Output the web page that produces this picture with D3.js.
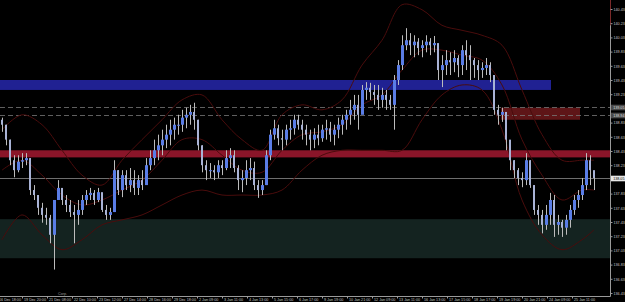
<!DOCTYPE html>
<html>
<head>
<meta charset="utf-8">
<script src="https://cdn.jsdelivr.net/npm/d3@7"></script>
<style>
  html, body { margin: 0; padding: 0; background: #000; overflow: hidden; }
</style>
</head>
<body>
<div id="chartArea"></div>
<script>
const svgWidth = 625;
const svgHeight = 302;
const plotRight = 610;
const plotBottom = 296;

// hourly bars (one drawn bar per group of hours), prices
const firstOpen = 138.87;
const highs = [
  138.90, 138.80, 138.59, 138.37, 138.37, 138.40, 138.40, 138.33, 137.95, 137.81,
  137.70, 137.63, 137.53, 137.74, 138.02, 137.88, 137.81, 137.74, 137.67, 137.74,
  137.81, 137.88, 137.91, 137.88, 137.91, 137.81, 137.67, 137.63, 138.30, 138.16,
  138.16, 138.16, 138.19, 138.16, 138.09, 138.16, 138.33, 138.44, 138.59, 138.66,
  138.73, 138.80, 138.87, 138.90, 138.94, 139.01, 139.04, 139.08, 139.11, 138.87,
  138.51, 138.30, 138.26, 138.23, 138.30, 138.30, 138.44, 138.47, 138.44, 138.23,
  138.16, 138.30, 138.33, 138.28, 138.02, 138.02, 138.44, 138.73, 138.87, 138.80,
  138.73, 138.80, 138.87, 138.94, 138.94, 138.87, 138.80, 138.73, 138.75, 138.80,
  138.80, 138.87, 138.84, 138.80, 138.90, 138.94, 139.01, 139.15, 139.22, 139.22,
  139.36, 139.40, 139.39, 139.36, 139.36, 139.32, 139.29, 139.22, 139.50, 139.71,
  140.06, 140.16, 140.09, 140.06, 140.02, 139.99, 140.06, 140.02, 140.05, 139.81,
  139.78, 139.85, 139.82, 139.85, 139.78, 139.92, 139.99, 139.92, 139.74, 139.71,
  139.68, 139.74, 139.68, 139.43, 139.08, 139.04, 138.90, 138.51, 138.30, 138.19,
  138.13, 138.40, 138.30, 137.95, 137.67, 137.60, 137.67, 137.84, 137.81, 137.53,
  137.46, 137.53, 137.67, 137.81, 137.88, 138.05, 138.40, 138.37, 138.09
];
const lows = [
  138.70, 138.51, 138.23, 138.06, 138.13, 138.19, 138.23, 137.81, 137.74, 137.53,
  137.42, 137.39, 137.13, 136.76, 137.74, 137.67, 137.57, 137.50, 137.13, 137.39,
  137.53, 137.67, 137.74, 137.67, 137.71, 137.57, 137.46, 137.46, 137.57, 137.81,
  137.78, 137.88, 137.85, 137.81, 137.81, 137.88, 138.02, 138.16, 138.23, 138.30,
  138.37, 138.47, 138.51, 138.59, 138.66, 138.70, 138.75, 138.80, 138.73, 138.44,
  138.13, 138.02, 138.05, 138.02, 138.05, 138.09, 138.16, 138.19, 138.13, 137.88,
  137.85, 137.95, 138.02, 137.88, 137.77, 137.81, 137.95, 138.30, 138.59, 138.51,
  138.44, 138.51, 138.59, 138.66, 138.73, 138.59, 138.51, 138.44, 138.47, 138.51,
  138.56, 138.59, 138.56, 138.51, 138.61, 138.66, 138.73, 138.80, 138.87, 138.73,
  139.01, 139.15, 139.15, 139.08, 139.01, 139.04, 139.01, 139.01, 138.73, 139.36,
  139.57, 139.85, 139.78, 139.75, 139.78, 139.75, 139.82, 139.78, 139.82, 139.43,
  139.33, 139.50, 139.50, 139.54, 139.47, 139.50, 139.57, 139.43, 139.46, 139.43,
  139.46, 139.50, 139.40, 138.94, 138.80, 138.84, 138.44, 138.16, 138.05, 137.95,
  137.92, 137.95, 137.91, 137.53, 137.39, 137.27, 137.32, 137.39, 137.22, 137.25,
  137.22, 137.25, 137.35, 137.53, 137.63, 137.74, 137.88, 137.95, 137.88
];
const closes = [
  138.80, 138.59, 138.30, 138.16, 138.28, 138.30, 138.33, 137.88, 137.81, 137.63,
  137.53, 137.49, 137.25, 137.74, 137.91, 137.74, 137.67, 137.57, 137.53, 137.60,
  137.74, 137.81, 137.84, 137.74, 137.85, 137.60, 137.53, 137.57, 138.16, 137.88,
  138.09, 137.95, 138.02, 137.91, 138.02, 137.95, 138.23, 138.33, 138.44, 138.51,
  138.59, 138.66, 138.73, 138.80, 138.80, 138.90, 138.94, 138.98, 138.87, 138.51,
  138.23, 138.16, 138.16, 138.13, 138.23, 138.19, 138.33, 138.37, 138.19, 138.02,
  138.05, 138.16, 138.19, 137.95, 137.88, 137.95, 138.37, 138.66, 138.75, 138.61,
  138.59, 138.73, 138.75, 138.87, 138.80, 138.73, 138.66, 138.59, 138.66, 138.61,
  138.73, 138.75, 138.66, 138.73, 138.80, 138.87, 138.94, 139.01, 139.08, 138.94,
  139.29, 139.32, 139.26, 139.22, 139.15, 139.22, 139.15, 139.08, 139.43, 139.64,
  139.92, 139.99, 139.92, 139.97, 139.88, 139.92, 139.97, 139.92, 139.95, 139.57,
  139.64, 139.71, 139.68, 139.74, 139.64, 139.85, 139.78, 139.71, 139.64, 139.57,
  139.60, 139.64, 139.50, 139.01, 138.94, 138.98, 138.59, 138.30, 138.16, 138.05,
  138.02, 138.30, 137.95, 137.60, 137.53, 137.39, 137.53, 137.74, 137.39, 137.43,
  137.35, 137.46, 137.60, 137.74, 137.81, 137.95, 138.30, 138.16, 138.05
];

// envelope lines (sampled every few bars)
const bandIdx = [0, 5, 10, 15, 20, 25, 30, 35, 40, 45, 50, 55, 60, 65, 70, 75, 80, 85, 90, 95,
  100, 105, 110, 115, 120, 125, 130, 135, 140, 145, 148];
const upperBand = [138.73, 138.94, 138.80, 138.44, 138.09, 137.95, 138.30, 138.59, 138.87, 139.15,
  139.22, 138.87, 138.59, 138.44, 138.94, 139.08, 139.01, 139.15, 139.64, 139.99,
  140.49, 140.42, 140.20, 140.13, 140.06, 139.92, 139.29, 138.66, 138.30, 138.30, 138.30];
const middleBand = [138.16, 138.30, 138.09, 137.81, 137.67, 137.74, 137.88, 138.02, 138.30, 138.59,
  138.59, 138.37, 138.16, 138.13, 138.44, 138.66, 138.70, 138.80, 139.08, 139.22,
  139.57, 139.85, 139.85, 139.78, 139.71, 139.36, 138.59, 138.09, 137.74, 137.88, 137.88];
const lowerBand = [137.18, 137.53, 137.25, 137.04, 137.18, 137.39, 137.46, 137.53, 137.67, 137.81,
  137.88, 137.81, 137.81, 137.81, 137.88, 138.16, 138.37, 138.44, 138.44, 138.44,
  138.44, 138.87, 139.22, 139.36, 139.29, 138.73, 137.74, 137.25, 137.04, 137.18, 137.32];

// rectangles drawn on the chart
const zoneNames = ['demand', 'pivot', 'supply', 'minor'];
const zoneTop = [137.47, 138.44, 139.43, 139.04];
const zoneBottom = [136.92, 138.34, 139.29, 138.87];
const zoneStart = [-0.5, -0.5, -0.5, 124.75];
const zoneEnd = [152, 152, 137.25, 144.5];

const dashedLevels = [139.05, 138.94];
const lastPrice = 138.05;

const priceTicks = [140.43, 140.23, 140.03, 139.83, 139.63, 139.43, 139.23, 139.03, 138.83, 138.63,
  138.43, 138.23, 138.03, 137.83, 137.63, 137.43, 137.23, 137.03, 136.83, 136.63, 136.43];
const timeTickIdx = [-1.25, 5, 11.25, 17.5, 23.75, 30, 36.25, 42.5, 48.75, 55, 61.25, 67.5,
  73.75, 80, 86.25, 92.5, 98.75, 105, 111.25, 117.5, 123.75, 130, 136.25, 142.5];
const timeLabels = ['16 Dec 18:00', '19 Dec 20:00', '21 Dec 08:00', '22 Dec 10:00', '23 Dec 12:00',
  '27 Dec 14:00', '28 Dec 16:00', '29 Dec 18:00', '2 Jan 09:00', '3 Jan 11:00', '4 Jan 13:00',
  '5 Jan 15:00', '6 Jan 17:00', '9 Jan 19:00', '10 Jan 21:00', '12 Jan 09:00', '13 Jan 11:00',
  '16 Jan 13:00', '17 Jan 15:00', '18 Jan 17:00', '19 Jan 19:00', '20 Jan 21:00', '24 Jan 09:00',
  '25 Jan 11:00'];

const zoneColors = { demand: '#142320', pivot: '#8a1529', supply: '#202192', minor: '#5e1517' };
const upColor = '#5a7de6';
const downColor = '#a9b3d6';
const wickColor = '#bcbcbc';
const bandColor = '#4a0c0c';
const axisColor = '#9a9a9a';
const textColor = '#c4c4c4';
const fontFamily = '"Liberation Sans", Arial, sans-serif';

const x = d3.scaleLinear().domain([-0.5, 152]).range([0, plotRight]);
const y = d3.scaleLinear().domain([136.43, 140.43]).range([293, 9]);

const canvas = d3.select('#chartArea')
  .append('svg')
  .attr('width', svgWidth)
  .attr('height', svgHeight)
  .style('display', 'block');

canvas.append('rect')
  .attr('width', svgWidth)
  .attr('height', svgHeight)
  .attr('fill', '#000');

const plot = canvas.append('g');

// zones
plot.selectAll('rect.zone')
  .data(zoneNames)
  .join('rect')
  .attr('class', 'zone')
  .attr('x', (d, i) => x(zoneStart[i]))
  .attr('width', (d, i) => x(zoneEnd[i]) - x(zoneStart[i]))
  .attr('y', (d, i) => y(zoneTop[i]))
  .attr('height', (d, i) => y(zoneBottom[i]) - y(zoneTop[i]))
  .attr('fill', d => zoneColors[d]);

// level lines
plot.selectAll('line.level')
  .data(dashedLevels)
  .join('line')
  .attr('class', 'level')
  .attr('x1', 0)
  .attr('x2', plotRight)
  .attr('y1', d => Math.round(y(d)) + 0.5)
  .attr('y2', d => Math.round(y(d)) + 0.5)
  .attr('stroke', '#777')
  .attr('stroke-width', 0.8)
  .attr('stroke-dasharray', '5,3');

plot.append('line')
  .attr('x1', 0)
  .attr('x2', plotRight)
  .attr('y1', Math.round(y(lastPrice)) + 0.5)
  .attr('y2', Math.round(y(lastPrice)) + 0.5)
  .attr('stroke', '#8a8a8a')
  .attr('stroke-width', 0.8);

// envelope lines
const bandLine = d3.line()
  .x((d, i) => x(bandIdx[i]))
  .y(d => y(d))
  .curve(d3.curveCatmullRom);

[upperBand, middleBand, lowerBand].forEach(band => {
  plot.append('path')
    .attr('d', bandLine(band))
    .attr('fill', 'none')
    .attr('stroke', bandColor)
    .attr('stroke-width', 1);
});

// candles
const opens = closes.map((c, i) => i === 0 ? firstOpen : closes[i - 1]);

plot.selectAll('line.wick')
  .data(closes)
  .join('line')
  .attr('class', 'wick')
  .attr('x1', (d, i) => Math.round(x(i)) + 0.5)
  .attr('x2', (d, i) => Math.round(x(i)) + 0.5)
  .attr('y1', (d, i) => y(highs[i]))
  .attr('y2', (d, i) => y(lows[i]))
  .attr('stroke', wickColor)
  .attr('stroke-width', 1);

plot.selectAll('rect.body')
  .data(closes)
  .join('rect')
  .attr('class', 'body')
  .attr('x', (d, i) => Math.round(x(i)) - 1)
  .attr('width', (d, i) => d >= opens[i] ? 3 : 2)
  .attr('y', (d, i) => y(Math.max(d, opens[i])))
  .attr('height', (d, i) => Math.max(1, Math.abs(y(d) - y(opens[i]))))
  .attr('fill', (d, i) => d >= opens[i] ? upColor : downColor);

// axes frame
canvas.append('line')
  .attr('x1', plotRight + 0.5).attr('x2', plotRight + 0.5)
  .attr('y1', 0).attr('y2', plotBottom + 0.5)
  .attr('stroke', axisColor);
canvas.append('line')
  .attr('x1', plotRight + 0.5).attr('x2', plotRight + 0.5)
  .attr('y1', 0).attr('y2', y(140.2))
  .attr('stroke', '#7a2a2a');
canvas.append('line')
  .attr('x1', 0).attr('x2', plotRight + 0.5)
  .attr('y1', plotBottom + 0.5).attr('y2', plotBottom + 0.5)
  .attr('stroke', axisColor);

const yAxis = canvas.append('g')
  .attr('transform', `translate(${plotRight + 0.5},0)`)
  .call(d3.axisRight(y).tickValues(priceTicks).tickFormat(d3.format('.2f')).tickSize(2).tickPadding(1));

yAxis.select('.domain').remove();
yAxis.selectAll('line').attr('stroke', axisColor);
yAxis.selectAll('text')
  .attr('fill', textColor)
  .attr('font-family', fontFamily)
  .attr('font-size', 3.7)
  .attr('dy', '0.35em');

const xAxis = canvas.append('g')
  .attr('transform', `translate(0,${plotBottom + 0.5})`)
  .call(d3.axisBottom(x).tickValues(timeTickIdx).tickFormat((d, i) => timeLabels[i]).tickSize(2));

xAxis.select('.domain').remove();
xAxis.selectAll('line').attr('stroke', axisColor);
xAxis.selectAll('text')
  .attr('fill', textColor)
  .attr('font-family', fontFamily)
  .attr('font-size', 3.7)
  .attr('text-anchor', 'start')
  .attr('x', 1.5)
  .attr('y', 1.5)
  .attr('dy', '0.8em');

// price labels on the axis
const levelLabels = canvas.selectAll('g.lvl')
  .data(dashedLevels)
  .join('g')
  .attr('class', 'lvl')
  .attr('transform', d => `translate(${plotRight + 1},${Math.round(y(d)) + 0.5})`);

levelLabels.append('rect')
  .attr('x', 0).attr('y', -2.8)
  .attr('width', 14).attr('height', 5.6)
  .attr('fill', '#4a4a4a');

levelLabels.append('text')
  .attr('x', 2.2).attr('dy', '0.35em')
  .attr('fill', '#dcdcdc')
  .attr('font-family', fontFamily)
  .attr('font-size', 3.7)
  .text(d => d3.format('.2f')(d));

const lastLabel = canvas.append('g')
  .attr('transform', `translate(${plotRight + 1},${Math.round(y(lastPrice)) + 0.5})`);

lastLabel.append('rect')
  .attr('x', 0).attr('y', -2.8)
  .attr('width', 14).attr('height', 5.6)
  .attr('fill', '#e8e8e8');

lastLabel.append('text')
  .attr('x', 2.2).attr('dy', '0.35em')
  .attr('fill', '#000')
  .attr('font-family', fontFamily)
  .attr('font-size', 3.7)
  .text(d3.format('.2f')(lastPrice));

// small caption near the bottom
canvas.append('text')
  .attr('x', x(14))
  .attr('y', plotBottom - 1.5)
  .attr('fill', '#9a9a9a')
  .attr('font-family', fontFamily)
  .attr('font-size', 3.7)
  .text('Corp.');
</script>
</body>
</html>
